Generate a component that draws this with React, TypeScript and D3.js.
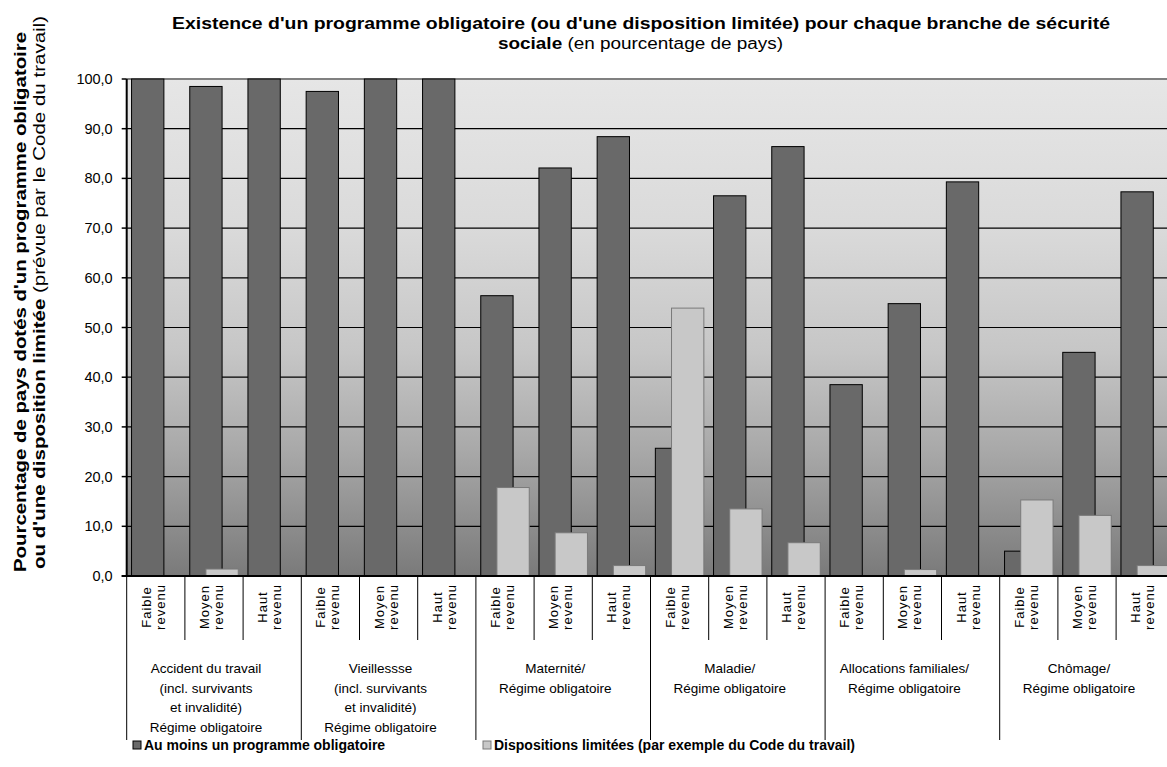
import React from "react";
import * as d3 from "d3";

const groupLabels: string[][] = [
  ["Accident du travail", "(incl. survivants", "et invalidité)", "Régime obligatoire"],
  ["Vieillessse", "(incl. survivants", "et invalidité)", "Régime obligatoire"],
  ["Maternité/", "Régime obligatoire"],
  ["Maladie/", "Régime obligatoire"],
  ["Allocations familiales/", "Régime obligatoire"],
  ["Chômage/", "Régime obligatoire"],
];
const incomeLevels: string[][] = [
  ["Faible", "revenu"],
  ["Moyen", "revenu"],
  ["Haut", "revenu"],
];
const mandatory: number[] = [100, 98.5, 100, 97.5, 100, 100, 56.4, 82.1, 88.4, 25.7, 76.5, 86.4, 38.5, 54.8, 79.3, 5.0, 45.0, 77.3];
const limited: number[] = [0, 1.4, 0, 0, 0, 0, 17.8, 8.7, 2.1, 53.9, 13.5, 6.7, 0, 1.3, 0, 15.3, 12.2, 2.1];
const yTicks: number[] = [0, 10, 20, 30, 40, 50, 60, 70, 80, 90, 100];
const seriesNames: string[] = ["Au moins un programme obligatoire", "Dispositions limitées (par exemple du Code du travail)"];

const W = 1167;
const H = 767;
const FONT = "'Liberation Sans', Arial, sans-serif";

export default function App() {
  const n = mandatory.length;
  const left = 126.7;
  const right = 1174.3;
  const top = 79;
  const bottom = 576;
  const x = d3.scaleBand<number>().domain(d3.range(n)).range([left, right]).padding(0);
  const y = d3.scaleLinear().domain([0, 100]).range([bottom, top]);
  const bw = x.bandwidth();
  const barW = bw / 1.8;
  const darkOff = (bw - 1.5 * barW) / 2;
  const lightOff = darkOff + 0.5 * barW;
  const fmt = (v: number) => d3.format(".1f")(v).replace(".", ",");

  return (
    <svg width={W} height={H} style={{ position: "absolute", left: 0, top: 0, background: "#fff" }} fontFamily={FONT}>
      <defs>
        <linearGradient id="bg" x1="0" y1="0" x2="0" y2="1">
          <stop offset="0%" stopColor="#e6e6e6" />
          <stop offset="30%" stopColor="#dadada" />
          <stop offset="55%" stopColor="#c6c6c6" />
          <stop offset="75%" stopColor="#a8a8a8" />
          <stop offset="100%" stopColor="#7a7a7a" />
        </linearGradient>
      </defs>

      {/* Title */}
      <text x={641} y={29} textAnchor="middle" fontSize={16} fontWeight="bold" fill="#000"
        textLength={938} lengthAdjust="spacingAndGlyphs">
        Existence d'un programme obligatoire (ou d'une disposition limitée) pour chaque branche de sécurité
      </text>
      <text x={640.5} y={49} textAnchor="middle" fontSize={16} fill="#000"
        textLength={285} lengthAdjust="spacingAndGlyphs">
        <tspan fontWeight="bold">sociale</tspan> (en pourcentage de pays)
      </text>

      {/* Plot background */}
      <rect x={left} y={top} width={right - left} height={bottom - top} fill="url(#bg)" />

      {/* Gridlines */}
      {yTicks.filter((t) => t > 0 && t < 100).map((t) => (
        <line key={"g" + t} x1={left} x2={right} y1={y(t)} y2={y(t)} stroke="#000" strokeWidth={1.2} />
      ))}
      <line x1={left} x2={right} y1={top} y2={top} stroke="#808080" strokeWidth={2} />

      {/* Bars: mandatory */}
      {mandatory.map((v, i) => (
        <rect key={"m" + i} x={(x(i) as number) + darkOff} y={y(v)} width={barW} height={y(0) - y(v)}
          fill="#696969" stroke="#000" strokeWidth={1} />
      ))}
      {/* Bars: limited */}
      {limited.map((v, i) => v > 0 ? (
        <rect key={"l" + i} x={(x(i) as number) + lightOff} y={y(v)} width={barW} height={y(0) - y(v)}
          fill="#c8c8c8" stroke="#7a7a7a" strokeWidth={1} />
      ) : null)}

      {/* Y axis */}
      <line x1={left} x2={left} y1={top} y2={bottom} stroke="#000" strokeWidth={2} />
      {yTicks.map((t) => (
        <g key={"t" + t}>
          <line x1={left - 5} x2={left} y1={y(t)} y2={y(t)} stroke="#000" strokeWidth={1.5} />
          <text x={left - 14} y={y(t) + 5} textAnchor="end" fontSize={14.5} fill="#000">{fmt(t)}</text>
        </g>
      ))}

      {/* X axis */}
      <line x1={left - 5} x2={right} y1={bottom} y2={bottom} stroke="#000" strokeWidth={2} />
      {d3.range(n + 1).map((i) => {
        const xx = i < n ? (x(i) as number) : right;
        const isGroup = i % 3 === 0;
        return (
          <line key={"s" + i} x1={xx} x2={xx} y1={bottom} y2={isGroup ? 740 : 640} stroke="#000" strokeWidth={1} />
        );
      })}

      {/* Income level labels (rotated) */}
      {d3.range(n).map((i) => {
        const cx = (x(i) as number) + bw / 2 - 2;
        const lines = incomeLevels[i % 3];
        return (
          <g key={"c" + i}>
            {lines.map((ln, k) => (
              <text key={k} transform={`translate(${cx - 3 + k * 14},607) rotate(-90)`} textAnchor="middle"
                fontSize={13} letterSpacing={1} fill="#000">{ln}</text>
            ))}
          </g>
        );
      })}

      {/* Group labels */}
      {groupLabels.map((lines, g) => {
        const cx = (x(g * 3) as number) + 1.5 * bw - 8;
        return (
          <g key={"gl" + g}>
            {lines.map((ln, k) => (
              <text key={k} x={cx} y={673 + k * 19.6} textAnchor="middle" fontSize={13.5} fill="#000">{ln}</text>
            ))}
          </g>
        );
      })}

      {/* Y axis title */}
      <text transform="translate(26,572) rotate(-90)" textAnchor="start" fontSize={16} fontWeight="bold" fill="#000"
        textLength={540} lengthAdjust="spacingAndGlyphs">
        Pourcentage de pays dotés d'un programme obligatoire
      </text>
      <text transform="translate(45,569) rotate(-90)" textAnchor="start" fontSize={16} fill="#000"
        textLength={553} lengthAdjust="spacingAndGlyphs">
        <tspan fontWeight="bold">ou d'une disposition limitée</tspan> (prévue par le Code du travail)
      </text>

      {/* Legend */}
      <rect x={133} y={741} width={8} height={8} fill="#696969" stroke="#000" strokeWidth={1} />
      <text x={144} y={750} fontSize={14} fontWeight="bold" fill="#000">{seriesNames[0]}</text>
      <rect x={483} y={741} width={8} height={8} fill="#c8c8c8" stroke="#7a7a7a" strokeWidth={1} />
      <text x={494} y={750} fontSize={14} fontWeight="bold" fill="#000">{seriesNames[1]}</text>
    </svg>
  );
}
